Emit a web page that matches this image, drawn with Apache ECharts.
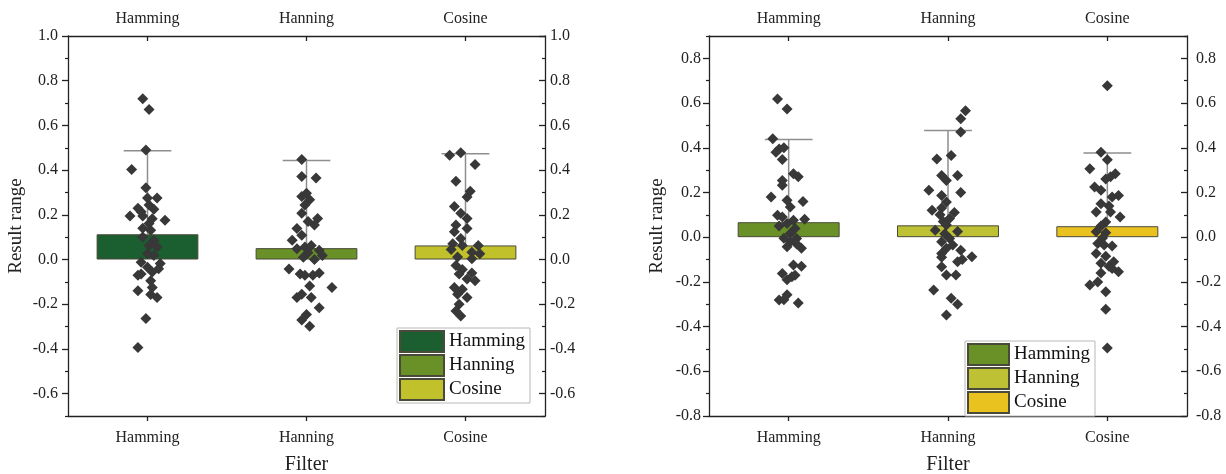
<!DOCTYPE html>
<html>
<head>
<meta charset="utf-8">
<script src="https://cdn.jsdelivr.net/npm/echarts@6/dist/echarts.min.js"></script>
<style>
html,body{margin:0;padding:0;background:#fff;}
#wrap{width:1226px;height:474px;position:relative;}
#left{position:absolute;left:0;top:0;width:613px;height:474px;}
#right{position:absolute;left:613px;top:0;width:613px;height:474px;}
</style>
</head>
<body>
<div id="wrap"><div id="left"></div><div id="right"></div></div>
<script>
// ---------- data ----------
const categories = ['Hamming', 'Hanning', 'Cosine'];

// Left panel
const leftMeans = [0.113, 0.051, 0.063];
const leftUpper = [0.487, 0.443, 0.473];
const leftColors = ['#1b5e2f', '#6a9028', '#c1c12b'];
const leftHammingVals = [0.719,0.671,0.49,0.403,0.321,0.275,0.275,0.229,0.244,0.214,0.225,0.195,0.176,0.182,0.195,0.161,0.14,0.131,0.101,0.086,0.063,0.056,0.026,0.018,-0.012,-0.018,-0.035,-0.041,-0.065,-0.056,-0.07,-0.095,-0.125,-0.14,-0.157,-0.17,-0.264,-0.394];
const leftHammingJit = [-0.03,0.01,-0.01,-0.10,-0.01,0,0.06,-0.06,0.01,-0.04,0.04,-0.11,0.11,0.03,-0.03,0.01,-0.03,0.02,-0.03,0.04,0.01,0.06,0,0.04,-0.04,0.08,0,0.07,-0.04,0.03,-0.06,0.02,0.03,-0.06,0.02,0.06,-0.01,-0.06];
const leftHanningVals = [0.448,0.372,0.365,0.297,0.282,0.267,0.244,0.207,0.184,0.154,0.139,0.17,0.109,0.086,0.056,0.063,0.048,0.041,0.018,0.03,-0.042,-0.065,-0.07,-0.07,-0.06,-0.118,-0.125,-0.17,-0.155,-0.17,-0.216,-0.246,-0.27,-0.299,0.01,0.0];
const leftHanningJit = [-0.03,-0.03,0.06,0,-0.03,0.02,-0.01,-0.03,0.07,0.05,-0.06,0.01,-0.03,-0.09,-0.01,0.03,-0.06,0.08,0.10,0.01,-0.11,-0.04,-0.01,0.04,0.08,0.02,0.16,-0.06,-0.03,0.03,0.08,0,-0.03,0.02,-0.02,0.05];
const leftCosineVals = [0.466,0.478,0.425,0.35,0.305,0.28,0.237,0.207,0.184,0.154,0.139,0.124,0.094,0.071,0.063,0.063,0.045,0.033,0.026,0.011,0.003,-0.027,-0.045,-0.06,-0.065,-0.087,-0.095,-0.125,-0.133,-0.155,-0.17,-0.2,-0.23,-0.253];
const leftCosineJit = [-0.10,-0.03,0.06,-0.06,0.03,0.01,-0.07,-0.03,0.01,-0.06,0.01,-0.07,-0.03,-0.08,-0.02,0.08,-0.09,0.04,0.09,-0.05,0.04,-0.06,-0.02,0.04,-0.04,0.01,0.06,-0.07,-0.02,-0.05,0.01,-0.04,-0.06,-0.03];
const leftMajorTicks = [-0.6,-0.4,-0.2,0.0,0.2,0.4,0.6,0.8,1.0];
const leftMinorTicks = [-0.7,-0.5,-0.3,-0.1,0.1,0.3,0.5,0.7,0.9];

// Right panel
const rightMeans = [0.067, 0.053, 0.049];
const rightUpper = [0.437, 0.477, 0.377];
const rightColors = ['#6a9028', '#bdc133', '#e9c21f'];
const rightHammingVals = [0.618,0.573,0.44,0.395,0.40,0.38,0.348,0.284,0.27,0.254,0.232,0.18,0.165,0.16,0.135,0.098,0.09,0.076,0.08,0.061,0.05,0.039,0.016,-0.005,-0.006,-0.02,-0.043,-0.05,-0.03,-0.125,-0.13,-0.162,-0.177,-0.19,-0.17,-0.258,-0.281,-0.295,-0.28];
const rightHammingJit = [-0.07,-0.01,-0.10,-0.06,-0.03,-0.08,-0.04,0.03,0.06,-0.04,-0.04,-0.11,-0.01,0.09,0.01,-0.07,-0.04,0.03,0.10,-0.01,-0.06,0.04,0.01,-0.03,0.05,0.01,-0.01,0.08,0.05,0.03,0.08,-0.04,0.02,-0.01,0.04,-0.01,-0.06,0.06,-0.03];
const rightHanningVals = [0.566,0.53,0.47,0.365,0.35,0.276,0.276,0.254,0.21,0.2,0.187,0.157,0.13,0.12,0.11,0.1,0.083,0.07,0.054,0.031,0.025,0.015,-0.006,-0.02,-0.035,-0.05,-0.058,-0.073,-0.088,-0.1,-0.11,-0.09,-0.132,-0.169,-0.169,-0.236,-0.273,-0.3,-0.348];
const rightHanningJit = [0.11,0.08,0.08,0.02,-0.07,-0.04,0.06,-0.01,-0.12,0.08,-0.04,-0.01,-0.04,-0.10,0.04,-0.05,0.01,-0.03,-0.01,-0.08,0.06,-0.02,0.01,-0.04,0.03,-0.01,0.08,-0.04,0.15,0.09,0.06,-0.04,-0.04,-0.01,0.05,-0.09,0.02,0.06,-0.01];
const rightCosineVals = [0.677,0.38,0.346,0.306,0.284,0.27,0.26,0.224,0.21,0.187,0.18,0.15,0.14,0.113,0.113,0.09,0.068,0.05,0.024,0.02,-0.004,-0.028,-0.035,-0.04,-0.073,-0.085,-0.11,-0.117,-0.13,-0.155,-0.16,-0.14,-0.2,-0.214,-0.244,-0.322,-0.496];
const rightCosineJit = [0,-0.04,0,-0.11,0.05,0.02,-0.01,-0.08,-0.04,0.07,0.03,-0.04,0.01,-0.07,0.02,0.08,-0.01,-0.04,-0.07,-0.01,-0.03,-0.06,-0.02,0.03,-0.07,-0.01,0.04,-0.04,0.01,0.07,-0.04,0.03,-0.06,-0.11,-0.01,-0.01,0];
const rightMajorTicks = [-0.8,-0.6,-0.4,-0.2,0.0,0.2,0.4,0.6,0.8];
const rightMinorTicks = [-0.7,-0.5,-0.3,-0.1,0.1,0.3,0.5,0.7,0.9];

// ---------- builder ----------
const FONT = "'Liberation Serif', 'Times New Roman', serif";
const AX = '#222';

function build(cfg) {
  const yBase = { type: 'value', min: cfg.yMin, max: cfg.yMax, interval: 0.1, splitLine: { show: false } };
  const fmt = v => (Math.abs(Math.round(v * 10)) % 2 === 0 ? v.toFixed(1) : '');
  const majorLabel = (margin) => ({
    show: true, customValues: cfg.major, formatter: fmt,
    fontFamily: FONT, fontSize: 16, color: '#222', margin: margin
  });
  const yAxes = [
    Object.assign({}, yBase, {
      position: 'left',
      axisLine: { show: true, onZero: false, lineStyle: { color: AX, width: 1.3 } },
      axisTick: { show: true, inside: false, length: 6, customValues: cfg.major, lineStyle: { color: AX, width: 1.3 } },
      axisLabel: majorLabel(cfg.leftMargin),
      name: 'Result range', nameLocation: 'middle', nameGap: 42, nameMoveOverlap: false,
      nameTextStyle: { fontFamily: FONT, fontSize: 19, color: '#222' }
    }),
    Object.assign({}, yBase, {
      position: 'left',
      axisLine: { show: false, onZero: false },
      axisTick: { show: true, inside: false, length: 3, customValues: cfg.minor, lineStyle: { color: AX, width: 1.2 } },
      axisLabel: { show: false }
    }),
    Object.assign({}, yBase, {
      position: 'right',
      axisLine: { show: true, onZero: false, lineStyle: { color: AX, width: 1.3 } },
      axisTick: { show: true, inside: true, length: 6, customValues: cfg.major, lineStyle: { color: AX, width: 1.3 } },
      axisLabel: majorLabel(cfg.rightMargin)
    }),
    Object.assign({}, yBase, {
      position: 'right',
      axisLine: { show: false, onZero: false },
      axisTick: { show: true, inside: true, length: 3, customValues: cfg.minor, lineStyle: { color: AX, width: 1.2 } },
      axisLabel: { show: false }
    })
  ];
  const catLabel = (margin) => ({ fontFamily: FONT, fontSize: 16, color: '#222', margin: margin });
  const xAxes = [
    {
      type: 'category', data: categories, position: 'bottom', boundaryGap: true,
      axisLine: { show: true, onZero: false, lineStyle: { color: AX, width: 1.3 } },
      axisTick: { show: true, alignWithLabel: true, inside: false, length: 5, lineStyle: { color: AX, width: 1.3 } },
      axisLabel: catLabel(14),
      name: 'Filter', nameLocation: 'middle', nameGap: 39,
      nameTextStyle: { fontFamily: FONT, fontSize: 20, color: '#222' }
    },
    {
      type: 'category', data: categories, position: 'top', boundaryGap: true,
      axisLine: { show: true, onZero: false, lineStyle: { color: AX, width: 1.3 } },
      axisTick: { show: true, alignWithLabel: true, inside: true, length: 5, lineStyle: { color: AX, width: 1.3 } },
      axisLabel: catLabel(9)
    },
    { type: 'value', min: -0.5, max: 2.5, show: false, axisLine: { onZero: false } }
  ];

  const series = [];
  categories.forEach((name, k) => {
    series.push({
      name: name, type: 'bar', xAxisIndex: 0, yAxisIndex: 0,
      data: cfg.means.map((m, i) => (i === k ? m : '-')),
      barWidth: '64%', barGap: '-100%',
      itemStyle: { color: cfg.colors[k], borderColor: '#4a4a3a', borderWidth: 1 },
      z: 2, silent: true
    });
  });
  series.push({
    name: 'err', type: 'custom', xAxisIndex: 0, yAxisIndex: 0, z: 3, silent: true,
    data: cfg.means.map((m, i) => [i, m, cfg.upper[i]]),
    renderItem: function (params, api) {
      const x = api.value(0);
      const lo = api.coord([x, api.value(1)]);
      const hi = api.coord([x, api.value(2)]);
      const hw = api.size([1, 0])[0] * 0.15;
      const st = { stroke: '#8e8e8e', lineWidth: 1.5 };
      return {
        type: 'group', children: [
          { type: 'line', shape: { x1: lo[0], y1: lo[1], x2: hi[0], y2: hi[1] }, style: st },
          { type: 'line', shape: { x1: hi[0] - hw, y1: hi[1], x2: hi[0] + hw, y2: hi[1] }, style: st }
        ]
      };
    }
  });
  cfg.points.forEach((pp, k) => {
    series.push({
      name: 'pts' + k, type: 'scatter', xAxisIndex: 2, yAxisIndex: 0, z: 5, silent: true,
      symbol: 'diamond', symbolSize: 11,
      itemStyle: { color: '#383838', opacity: 1 },
      data: pp.vals.map((v, j) => [k + pp.jit[j], v])
    });
  });

  return {
    animation: false,
    backgroundColor: '#fff',
    textStyle: { fontFamily: FONT },
    grid: { left: cfg.gridLeft, right: cfg.gridRight, top: 36, bottom: 58, containLabel: false, outerBoundsMode: 'none' },
    xAxis: xAxes,
    yAxis: yAxes,
    legend: {
      data: categories, orient: 'vertical', left: cfg.legLeft, top: cfg.legTop,
      itemWidth: cfg.legIconW, itemHeight: 21, itemGap: 1, icon: 'rect',
      padding: [2, 5, 2, 2], borderColor: '#b8b8b8', borderWidth: 1, backgroundColor: '#fff',
      selectedMode: false,
      textStyle: { fontFamily: FONT, fontSize: 19, lineHeight: 21, color: '#111' }
    },
    series: series
  };
}

const leftChart = echarts.init(document.getElementById('left'), null, { renderer: 'canvas' });
leftChart.setOption(build({
  yMin: -0.7, yMax: 1.0, major: leftMajorTicks, minor: leftMinorTicks,
  means: leftMeans, upper: leftUpper, colors: leftColors,
  points: [
    { vals: leftHammingVals, jit: leftHammingJit },
    { vals: leftHanningVals, jit: leftHanningJit },
    { vals: leftCosineVals, jit: leftCosineJit }
  ],
  gridLeft: 68, gridRight: 68, legLeft: 397, legTop: 328, legIconW: 44,
  leftMargin: 10, rightMargin: 5
}));

const rightChart = echarts.init(document.getElementById('right'), null, { renderer: 'canvas' });
rightChart.setOption(build({
  yMin: -0.8, yMax: 0.9, major: rightMajorTicks, minor: rightMinorTicks,
  means: rightMeans, upper: rightUpper, colors: rightColors,
  points: [
    { vals: rightHammingVals, jit: rightHammingJit },
    { vals: rightHanningVals, jit: rightHanningJit },
    { vals: rightCosineVals, jit: rightCosineJit }
  ],
  gridLeft: 96, gridRight: 39, legLeft: 352, legTop: 341, legIconW: 41,
  leftMargin: 8, rightMargin: 9
}));
</script>
</body>
</html>
